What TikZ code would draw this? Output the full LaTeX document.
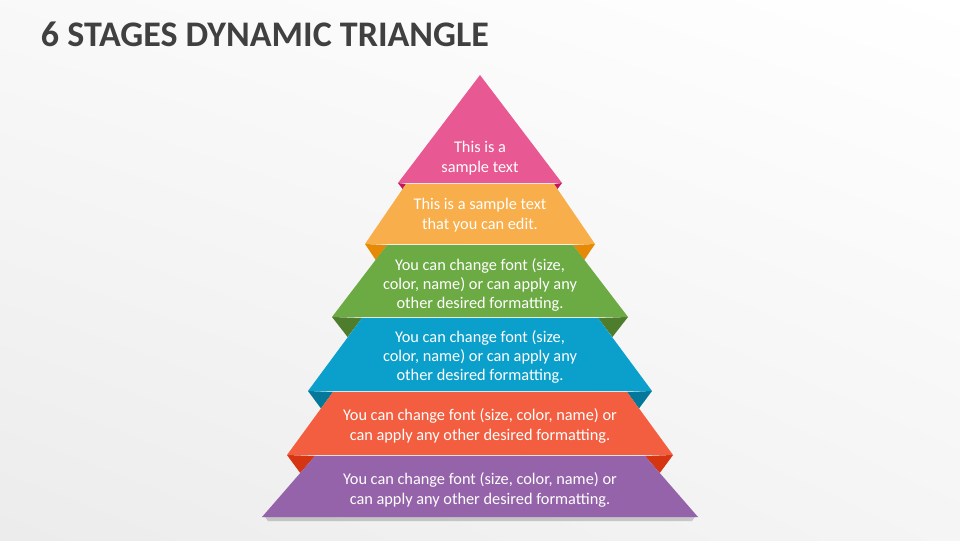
\documentclass[tikz,border=0pt]{standalone}
\usepackage{fontspec}
\setmainfont{Carlito}
\usetikzlibrary{calc,shadings}
\definecolor{titlegray}{HTML}{404040}
\definecolor{pinkL}{HTML}{E85892}
\definecolor{pinkD}{HTML}{C4165E}
\definecolor{orangeL}{HTML}{F8AE4A}
\definecolor{orangeD}{HTML}{E68A05}
\definecolor{greenL}{HTML}{6CAA44}
\definecolor{greenD}{HTML}{4F7D2E}
\definecolor{blueL}{HTML}{0B9FCB}
\definecolor{blueD}{HTML}{04789A}
\definecolor{redL}{HTML}{F25E3F}
\definecolor{redD}{HTML}{D53512}
\definecolor{purpleL}{HTML}{9563A9}
\tikzset{lbl/.style={text=white,align=center,font=\fontsize{11.6}{13.8}\selectfont},
  fold/.style={fill=#1},
  shadowline/.style={fill=black,opacity=0.18}}

\begin{document}
\begin{tikzpicture}[x=0.025cm,y=-0.025cm]
\useasboundingbox (0,0) rectangle (960,540);
\shade[upper left=gray!5,upper right=white,lower left=gray!15,lower right=gray!8] (0,0) rectangle (960,540);
\node[anchor=west,font=\fontsize{25.6}{30}\selectfont\bfseries,text=titlegray] (title) at (36,34) {6 STAGES DYNAMIC TRIANGLE};
% corners of the six stages: top y / top half width / bottom y / bottom half width
\foreach \yt/\ht/\yb/\hb [count=\i] in {75/0/183/82, 184/74/244/115, 245/93/317/148,
    318/118/391/172, 392/147/455/193, 456/165/517/218}{
  \coordinate (tl\i) at (480-\ht,\yt);
  \coordinate (tr\i) at (480+\ht,\yt);
  \coordinate (bl\i) at (480-\hb,\yb);
  \coordinate (br\i) at (480+\hb,\yb);
}
% folded corners behind the stage below (tip y / tip half width)
\foreach \i/\j/\ay/\ah/\col in {1/2/189/77.4/pinkD, 2/3/260/104.3/orangeD,
    3/4/337/132.4/greenD, 4/5/408.5/159/blueD, 5/6/473/179.8/redD}{
  \fill[fold=\col] (bl\i) -- (tl\j) -- (480-\ah,\ay) -- cycle;
  \fill[fold=\col] (br\i) -- (tr\j) -- (480+\ah,\ay) -- cycle;
}
\fill[shadowline] ($(bl6)+(3,0)$) -- ($(br6)+(-3,0)$) -- ($(br6)+(-6,4)$) -- ($(bl6)+(6,4)$) -- cycle;
\foreach \i/\col in {1/pinkL, 2/orangeL, 3/greenL, 4/blueL, 5/redL, 6/purpleL}
  \fill[\col] (tl\i) -- (tr\i) -- (br\i) -- (bl\i) -- cycle;
% texts
\node[lbl] (t1) at (480,158) {This is a\\sample text};
\node[lbl] (t2) at (480,215) {This is a sample text\\that you can edit.};
\node[lbl] (t3) at (480,285) {You can change font (size,\\color, name) or can apply any\\other desired formatting.};
\node[lbl] (t4) at (480,357) {You can change font (size,\\color, name) or can apply any\\other desired formatting.};
\node[lbl] (t5) at (480,426) {You can change font (size, color, name) or\\can apply any other desired formatting.};
\node[lbl] (t6) at (480,490) {You can change font (size, color, name) or\\can apply any other desired formatting.};
\end{tikzpicture}
\end{document}
